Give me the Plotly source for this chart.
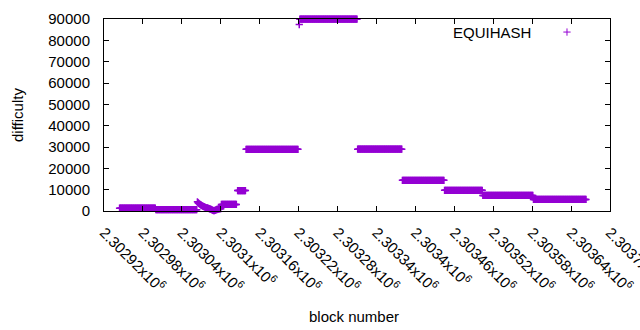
import plotly.graph_objects as go

# ---- data ----
# piecewise-constant difficulty runs: first block, last block, difficulty
seg_start = [2302944, 2303000, 2303101, 2303126, 2303139, 2303221, 2303222, 2303311, 2303380, 2303445, 2303504, 2303582]
seg_end   = [2302999, 2303063, 2303124, 2303138, 2303219, 2303221, 2303310, 2303379, 2303444, 2303503, 2303581, 2303663]
seg_value = [1300, 600, 3100, 9600, 28900, 87400, 89900, 29000, 14400, 9700, 7300, 5400]

# the transition dip, block by block
dip_start = 2303064
dip_values = [4300, 3900, 3600, 3300, 3100, 2900, 2700, 2500, 2300, 2200,
              2000, 1900, 1700, 1600, 1500, 1400, 1300, 1200, 1100, 1000,
              900, 800, 600, 400, 300, 200, 200, 300, 400, 600,
              700, 800, 900, 1000, 1000, 1100, 1100]

tick_vals = [2302920, 2302980, 2303040, 2303100, 2303160, 2303220, 2303280,
             2303340, 2303400, 2303460, 2303520, 2303580, 2303640, 2303700]
tick_mant = ["2.30292", "2.30298", "2.30304", "2.3031", "2.30316", "2.30322", "2.30328",
             "2.30334", "2.3034", "2.30346", "2.30352", "2.30358", "2.30364", "2.3037"]
y_ticks = [0, 10000, 20000, 30000, 40000, 50000, 60000, 70000, 80000, 90000]

series_name = "EQUIHASH"
COLOR = "#9400D3"
FONT = "Liberation Sans, Arial, sans-serif"

# ---- build point lists ----
xs, ys = [], []
for s, e, v in zip(seg_start, seg_end, seg_value):
    for b in range(s, e + 1):
        xs.append(b)
        ys.append(v)
for i, v in enumerate(dip_values):
    xs.append(dip_start + i)
    ys.append(v)

marker = dict(symbol="cross-thin", size=5.2, color=COLOR,
              line=dict(color=COLOR, width=1.5))

fig = go.Figure()
fig.add_trace(go.Scatter(x=xs, y=ys, mode="markers", marker=marker,
                         cliponaxis=False, showlegend=False, hoverinfo="skip"))
# legend sample (gnuplot style: text then sample on the right)
fig.add_trace(go.Scatter(x=[0.915], y=[0.932], xaxis="x2", yaxis="y2",
                         mode="markers",
                         marker=dict(symbol="cross-thin", size=5.2, color=COLOR,
                                     line=dict(color=COLOR, width=1)),
                         showlegend=False, cliponaxis=False, hoverinfo="skip"))

axis_common = dict(showline=True, linecolor="black", linewidth=1, mirror="ticks",
                   ticks="inside", ticklen=5, tickcolor="black", tickwidth=1,
                   showgrid=False, zeroline=False,
                   tickfont=dict(family=FONT, size=15, color="black"))

fig.update_layout(
    width=640, height=330,
    margin=dict(l=104, r=30, t=19, b=119),
    paper_bgcolor="white", plot_bgcolor="white",
    font=dict(family=FONT, size=15, color="black"),
    xaxis=dict(range=[tick_vals[0], tick_vals[-1]], tickmode="array",
               tickvals=tick_vals,
               ticktext=[m + "x10<sup>6</sup>" for m in tick_mant],
               tickangle=45, ticklabelstandoff=6, ticklabeloverflow="allow",
               automargin=False, **axis_common),
    yaxis=dict(range=[0, 90000], tickmode="array", tickvals=y_ticks,
               ticktext=[str(v) for v in y_ticks], ticklabelstandoff=10,
               automargin=False, **axis_common),
    xaxis2=dict(overlaying="x", range=[0, 1], visible=False),
    yaxis2=dict(overlaying="y", range=[0, 1], visible=False),
    showlegend=False,
    annotations=[
        dict(text="difficulty", xref="paper", yref="paper", x=-0.172, y=0.5,
             textangle=-90, showarrow=False, xanchor="center", yanchor="middle",
             font=dict(family=FONT, size=15, color="black")),
        dict(text="block number", xref="paper", yref="paper", x=0.494, y=-0.547,
             showarrow=False, xanchor="center", yanchor="middle",
             font=dict(family=FONT, size=15, color="black")),
        dict(text=series_name, xref="paper", yref="paper", x=0.848, y=0.932,
             showarrow=False, xanchor="right", yanchor="middle",
             font=dict(family=FONT, size=15, color="black")),
    ],
)

fig.write_html("out.html")
